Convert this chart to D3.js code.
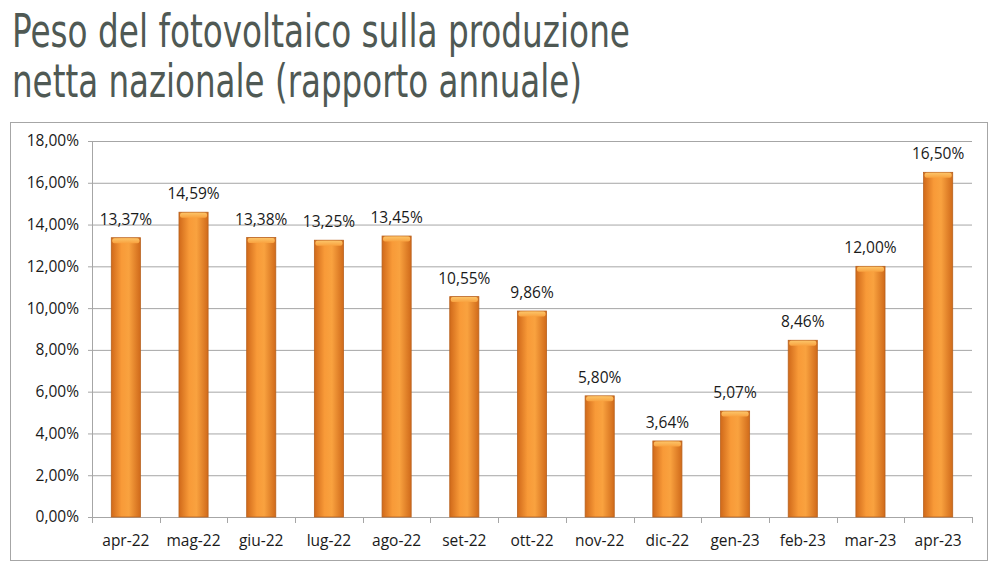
<!DOCTYPE html>
<html>
<head>
<meta charset="utf-8">
<script src="https://cdn.jsdelivr.net/npm/d3@7"></script>
<style>
  body { margin: 0; background: #fff; }
  svg { display: block; }
</style>
</head>
<body>
<svg id="chart" width="1000" height="572"></svg>
<script>
// data
var months = ["apr-22", "mag-22", "giu-22", "lug-22", "ago-22", "set-22", "ott-22",
              "nov-22", "dic-22", "gen-23", "feb-23", "mar-23", "apr-23"];
var shares = [13.37, 14.59, 13.38, 13.25, 13.45, 10.55, 9.86, 5.80, 3.64, 5.07, 8.46, 12.00, 16.50];
var yTicks = [0, 2, 4, 6, 8, 10, 12, 14, 16, 18];
var titleLines = ["Peso del fotovoltaico sulla produzione", "netta nazionale (rapporto annuale)"];

var margins = { left: 92, right: 28, top: 141, bottom: 55 };
var width = 1000 - margins.left - margins.right;
var height = 572 - margins.top - margins.bottom;

var svg = d3.select("#chart");

var fmt = function(v) { return v.toFixed(2).replace(".", ",") + "%"; };
var labelFont = "'Open Sans', sans-serif";
var labelSize = 15.5;

// gradient for the bars
var defs = svg.append("defs");
var grad = defs.append("linearGradient").attr("id", "barGrad")
    .attr("x1", "0").attr("x2", "1").attr("y1", "0").attr("y2", "0");
grad.append("stop").attr("offset", "0%").attr("stop-color", "#d0691a");
grad.append("stop").attr("offset", "35%").attr("stop-color", "#f89a38");
grad.append("stop").attr("offset", "60%").attr("stop-color", "#f9a23f");
grad.append("stop").attr("offset", "100%").attr("stop-color", "#d06a1a");

var capGrad = defs.append("linearGradient").attr("id", "capGrad")
    .attr("x1", "0").attr("x2", "0").attr("y1", "0").attr("y2", "1");
capGrad.append("stop").attr("offset", "0%").attr("stop-color", "#fcc468");
capGrad.append("stop").attr("offset", "100%").attr("stop-color", "#f9a23f");

// title
svg.append("g").selectAll("text")
    .data(titleLines)
    .enter()
    .append("text")
    .attr("x", 12)
    .attr("y", function(d, i) { return 47 + i * 50; })
    .attr("textLength", function(d, i) { return i == 0 ? 618 : 570; })
    .attr("lengthAdjust", "spacingAndGlyphs")
    .attr("font-family", "'Liberation Sans Narrow', 'DejaVu Sans Condensed', sans-serif")
    .attr("font-size", 47)
    .attr("fill", "#4f5954")
    .text(function(d) { return d; });

// frame
svg.append("rect")
    .attr("x", 10.5).attr("y", 122.5)
    .attr("width", 977).attr("height", 438)
    .attr("fill", "none")
    .attr("stroke", "#a6a6a6");

var g = svg.append("g")
    .attr("transform", "translate(" + margins.left + "," + margins.top + ")");

var xScale = d3.scaleBand()
    .domain(months)
    .range([0, width])
    .paddingInner(0.57)
    .paddingOuter(0.285);

var xEdges = d3.scaleBand().domain(months).range([0, width]);

var yScale = d3.scaleLinear()
    .domain([0, 18])
    .range([height, 0]);

// gridlines + y axis
var yAxis = d3.axisLeft(yScale)
    .tickValues(yTicks)
    .tickSize(-width)
    .tickPadding(13)
    .tickFormat(fmt);

var ya = g.append("g").attr("class", "y axis").call(yAxis);
ya.select(".domain").remove();
ya.selectAll(".tick line")
    .attr("x1", -4)
    .attr("stroke", "#a6a6a6");
ya.selectAll("text")
    .attr("font-family", labelFont)
    .attr("font-size", labelSize)
    .attr("fill", "#1a1a1a");

// vertical axis line
g.append("line")
    .attr("x1", 0.5).attr("x2", 0.5)
    .attr("y1", 0).attr("y2", height)
    .attr("stroke", "#a6a6a6");

// x axis with ticks at band edges
var xa = g.append("g")
    .attr("transform", "translate(0," + height + ")");
xa.append("line")
    .attr("x1", 0).attr("x2", width)
    .attr("y1", 0.5).attr("y2", 0.5)
    .attr("stroke", "#a6a6a6");
xa.selectAll(".edge")
    .data(months.concat(["end"]))
    .enter()
    .append("line")
    .attr("class", "edge")
    .attr("x1", function(d, i) { return Math.round(i * xEdges.step()) + 0.5; })
    .attr("x2", function(d, i) { return Math.round(i * xEdges.step()) + 0.5; })
    .attr("y1", 0).attr("y2", 6)
    .attr("stroke", "#a6a6a6");
xa.selectAll(".lbl")
    .data(months)
    .enter()
    .append("text")
    .attr("class", "lbl")
    .attr("x", function(d) { return xEdges(d) + xEdges.bandwidth() / 2; })
    .attr("y", 29)
    .attr("text-anchor", "middle")
    .attr("font-family", labelFont)
    .attr("font-size", labelSize)
    .attr("fill", "#1a1a1a")
    .text(function(d) { return d; });

// bars
var bars = g.append("g").selectAll("g")
    .data(shares)
    .enter()
    .append("g");

bars.append("rect")
    .attr("x", function(d, i) { return xScale(months[i]); })
    .attr("y", function(d) { return yScale(d); })
    .attr("width", xScale.bandwidth())
    .attr("height", function(d) { return height - yScale(d); })
    .attr("fill", "url(#barGrad)")
    .attr("stroke", "#b8621e")
    .attr("stroke-width", 0.8);

bars.append("rect")
    .attr("x", function(d, i) { return xScale(months[i]) + 1; })
    .attr("y", function(d) { return yScale(d) + 0.5; })
    .attr("width", xScale.bandwidth() - 2)
    .attr("height", 5)
    .attr("rx", 2)
    .attr("fill", "url(#capGrad)");

bars.append("text")
    .attr("x", function(d, i) { return xScale(months[i]) + xScale.bandwidth() / 2; })
    .attr("y", function(d) { return yScale(d) - 13; })
    .attr("text-anchor", "middle")
    .attr("font-family", labelFont)
    .attr("font-size", labelSize)
    .attr("fill", "#1a1a1a")
    .text(fmt);
</script>
</body>
</html>
